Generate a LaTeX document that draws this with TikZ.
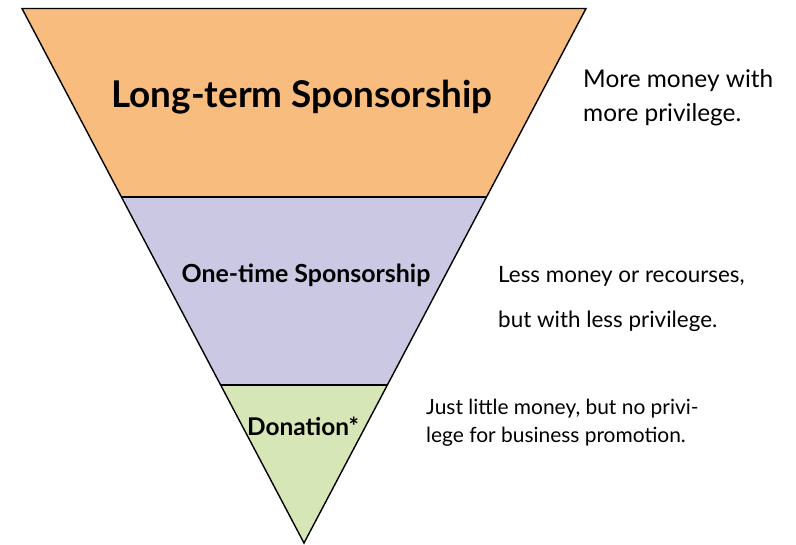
\documentclass[tikz,border=0pt]{standalone}
\usepackage{fontspec}
\setmainfont{Lato}
\usepackage{tikz}
\usetikzlibrary{calc,positioning}

\definecolor{longcol}{HTML}{F8BC7E}
\definecolor{onecol}{HTML}{CBC8E3}
\definecolor{doncol}{HTML}{D7E6B6}

\begin{document}
\begin{tikzpicture}[x=1bp,y=-1bp]
          \tikzstyle{band} = [draw=black, line width=1.4bp, line join=miter]
          \tikzstyle{lvl}  = [inner sep=0pt, anchor=base, font=\bfseries]
          \tikzstyle{note} = [inner sep=0pt, anchor=base west, align=left]

          \useasboundingbox (0,0) rectangle (796,545);

          % corners of the funnel
          \coordinate (tl) at (22,8.5);
          \coordinate (tr) at (586,8.5);
          \coordinate (apex) at (304,543);
          \coordinate (ml) at ($(tl)!0.3523!(apex)$);
          \coordinate (mr) at ($(tr)!0.3523!(apex)$);
          \coordinate (ll) at ($(tl)!0.7044!(apex)$);
          \coordinate (lr) at ($(tr)!0.7044!(apex)$);

          \fill[longcol] (tl) -- (tr) -- (mr) -- (ml) -- cycle;
          \fill[onecol] (ml) -- (mr) -- (lr) -- (ll) -- cycle;
          \fill[doncol] (ll) -- (lr) -- (apex) -- cycle;
          \draw[band] (tl) -- (tr) -- (apex) -- cycle;
          \draw[band] (ml) -- (mr);
          \draw[band] (ll) -- (lr);

          \node[lvl, font=\fontsize{37}{44}\selectfont\bfseries] (long) at (302,108) {Long-term Sponsorship};
          \node[lvl, font=\fontsize{25}{30}\selectfont\bfseries] (once) at (306,283) {One-time Sponsorship};
          \node[lvl, font=\fontsize{24.5}{30}\selectfont\bfseries] (don) at (303,435) {Donation*};

          % text beside each band (anchor is the last line)
          \node[note, font=\fontsize{24.5}{35}\selectfont] (longtxt) at (583,122) {More money with\\more privilege.};
          \node[note, font=\fontsize{22.5}{45}\selectfont] (oncetxt) at (498,327) {Less money or recourses,\\but with less privilege.};
          \node[note, font=\fontsize{21}{28}\selectfont] (dontxt) at (426,442) {Just little money, but no privi-\\lege for business promotion.};
        \end{tikzpicture}
\end{document}
